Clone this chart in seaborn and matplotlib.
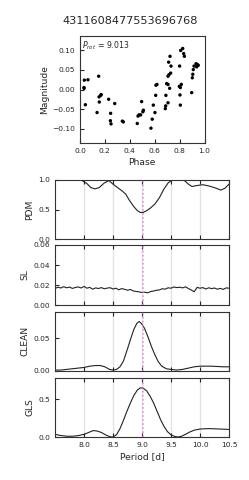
import numpy as np
import pandas as pd
import matplotlib
matplotlib.use("Agg")
import matplotlib.pyplot as plt
import seaborn as sns

# star id and best period
star_id = "4311608477553696768"
p_rot = 9.013

# phase-folded light curve
phase = [0.035, 0.064, 0.032, 0.033, 0.043, 0.150, 0.153, 0.166, 0.170, 0.155,
         0.137, 0.230, 0.279, 0.246, 0.244, 0.249, 0.340, 0.348, 0.460, 0.466,
         0.474, 0.495, 0.509, 0.505, 0.487, 0.570, 0.580, 0.589, 0.602, 0.608,
         0.610, 0.618, 0.685, 0.688, 0.690, 0.696, 0.707, 0.707, 0.720, 0.712,
         0.723, 0.731, 0.728, 0.707, 0.715, 0.800, 0.809, 0.825, 0.833, 0.838,
         0.798, 0.814, 0.806, 0.803, 0.806, 0.897, 0.902, 0.906, 0.910, 0.916,
         0.932, 0.942, 0.937, 0.950]
mag = [0.024, 0.025, 0.005, 0.003, -0.039, 0.034, -0.019, -0.015, -0.013, -0.032,
       -0.059, -0.025, -0.036, -0.061, -0.080, -0.088, -0.081, -0.083, -0.087, -0.068,
       -0.065, -0.031, -0.053, -0.057, -0.065, -0.099, -0.076, -0.040, -0.059, -0.015,
       0.011, 0.013, -0.049, -0.042, -0.015, 0.015, 0.013, -0.034, 0.003, 0.070,
       0.085, 0.060, 0.042, 0.034, 0.038, 0.060, 0.100, 0.105, 0.092, 0.085,
       0.008, 0.013, 0.005, -0.014, -0.040, -0.008, 0.030, 0.039, 0.051, 0.060,
       0.066, 0.064, 0.058, 0.062]

# PDM theta
pdm_period = [7.50, 7.95, 8.05, 8.12, 8.19, 8.26, 8.35, 8.43, 8.50, 8.58, 8.65, 8.72,
              8.78, 8.85, 8.92, 8.97, 9.02, 9.08, 9.14, 9.22, 9.30, 9.38, 9.45, 9.52,
              9.72, 9.80, 9.86, 9.97, 10.05, 10.15, 10.25, 10.36, 10.43, 10.50]
pdm_theta = [1.0, 1.0, 0.94, 0.87, 0.85, 0.87, 0.95, 0.99, 0.93, 0.87, 0.82, 0.76,
             0.66, 0.56, 0.48, 0.45, 0.45, 0.48, 0.52, 0.59, 0.70, 0.85, 0.95, 1.0,
             1.0, 0.93, 0.89, 0.91, 0.92, 0.90, 0.87, 0.83, 0.86, 0.93]

# string length
sl_period = [7.50, 7.55, 7.60, 7.65, 7.70, 7.75, 7.80, 7.85, 7.90, 7.95,
             8.00, 8.05, 8.10, 8.15, 8.20, 8.25, 8.30, 8.35, 8.40, 8.45,
             8.50, 8.55, 8.60, 8.65, 8.70, 8.75, 8.80, 8.85, 8.90, 8.95,
             9.00, 9.05, 9.10, 9.15, 9.20, 9.25, 9.30, 9.35, 9.40, 9.45,
             9.50, 9.55, 9.60, 9.65, 9.70, 9.75, 9.80, 9.85, 9.90, 9.95,
             10.00, 10.05, 10.10, 10.15, 10.20, 10.25, 10.30, 10.35, 10.40, 10.45,
             10.50]
sl_value = [0.0165, 0.0178, 0.0170, 0.0183, 0.0172, 0.0179, 0.0166, 0.0175, 0.0181, 0.0170,
            0.0186, 0.0168, 0.0176, 0.0158, 0.0171, 0.0165, 0.0174, 0.0162, 0.0169, 0.0173,
            0.0160, 0.0168, 0.0152, 0.0164, 0.0157, 0.0148, 0.0155, 0.0140, 0.0136, 0.0131,
            0.0125, 0.0128, 0.0122, 0.0135, 0.0140, 0.0148, 0.0150, 0.0163, 0.0158, 0.0172,
            0.0168, 0.0180, 0.0174, 0.0178, 0.0171, 0.0182, 0.0165, 0.0150, 0.0132, 0.0176,
            0.0168, 0.0174, 0.0160, 0.0172, 0.0164, 0.0170, 0.0158, 0.0166, 0.0156, 0.0171,
            0.0168]

# CLEAN power
clean_period = [7.50, 7.60, 7.70, 7.80, 7.90, 8.00, 8.10, 8.20, 8.28, 8.36, 8.44, 8.50,
                8.56, 8.62, 8.68, 8.74, 8.80, 8.86, 8.91, 8.95, 8.99, 9.04, 9.10, 9.16,
                9.22, 9.28, 9.34, 9.42, 9.50, 9.60, 9.70, 9.80, 9.90, 10.00, 10.20, 10.40,
                10.50]
clean_power = [0.001, 0.001, 0.002, 0.003, 0.004, 0.005, 0.007, 0.008, 0.008, 0.006, 0.002, 0.001,
               0.002, 0.006, 0.015, 0.031, 0.048, 0.064, 0.073, 0.076, 0.073, 0.066, 0.053, 0.038,
               0.025, 0.014, 0.007, 0.003, 0.002, 0.001, 0.002, 0.004, 0.006, 0.007, 0.007, 0.006,
               0.006]

# GLS power
gls_period = [7.50, 7.60, 7.70, 7.80, 7.90, 8.00, 8.08, 8.16, 8.22, 8.30, 8.38, 8.45,
              8.50, 8.56, 8.62, 8.68, 8.74, 8.80, 8.86, 8.92, 8.97, 9.02, 9.08, 9.14,
              9.20, 9.26, 9.32, 9.38, 9.44, 9.50, 9.56, 9.62, 9.68, 9.75, 9.82, 9.90,
              10.00, 10.10, 10.20, 10.35, 10.50]
gls_power = [0.035, 0.020, 0.010, 0.010, 0.018, 0.035, 0.060, 0.085, 0.080, 0.060, 0.025, 0.003,
             0.000, 0.030, 0.110, 0.220, 0.340, 0.450, 0.550, 0.620, 0.650, 0.645, 0.610, 0.540,
             0.450, 0.340, 0.230, 0.140, 0.070, 0.030, 0.008, 0.000, 0.010, 0.035, 0.065, 0.090,
             0.105, 0.110, 0.110, 0.105, 0.100]

period_ticks = [8.0, 8.5, 9.0, 9.5, 10.0, 10.5]

sns.set_style("ticks", {"xtick.direction": "in", "ytick.direction": "in",
                        "axes.edgecolor": "#333333"})
plt.rcParams["font.family"] = ["DejaVu Sans"]
plt.rcParams["axes.linewidth"] = 0.8
plt.rcParams["xtick.major.size"] = 3
plt.rcParams["ytick.major.size"] = 3
plt.rcParams["xtick.major.width"] = 0.8
plt.rcParams["ytick.major.width"] = 0.8

fig = plt.figure(figsize=(2.49, 4.8), dpi=100)
W, H = 249, 480

def box(l, t, r, b):
    return [l / W, 1 - b / H, (r - l) / W, (b - t) / H]

# light curve
ax0 = fig.add_axes(box(80, 36, 204.5, 143))
lc = pd.DataFrame({"phase": phase, "mag": mag})
sns.scatterplot(data=lc, x="phase", y="mag", ax=ax0, color="black", s=6,
                edgecolor="none", linewidth=0)
ax0.set_xlim(0, 1)
ax0.set_ylim(-0.137, 0.137)
ax0.set_xticks([0.0, 0.2, 0.4, 0.6, 0.8, 1.0])
ax0.set_yticks([-0.10, -0.05, 0.0, 0.05, 0.10])
ax0.set_yticklabels(["\u22120.10", "\u22120.05", "0.00", "0.05", "0.10"])
ax0.tick_params(labelsize=5.4, length=3)
ax0.set_xlabel("Phase", fontsize=6.6, labelpad=3)
ax0.set_ylabel("Magnitude", fontsize=6.6, labelpad=2)
ax0.text(0.02, 0.97, r"$P_{rot}$ = 9.013", transform=ax0.transAxes,
         fontsize=5.6, va="top", ha="left")
fig.text(130.5 / W, 1 - 21 / H, star_id, fontsize=8.1, ha="center", va="center")

panels = [
    ("PDM", pdm_period, pdm_theta, box(55, 180, 229, 239), (0, 1.0), [0.0, 0.5, 1.0], "{:.1f}"),
    ("SL", sl_period, sl_value, box(55, 245, 229, 305), (0, 0.06), [0.0, 0.02, 0.04, 0.06], "{:.2f}"),
    ("CLEAN", clean_period, clean_power, box(55, 311.7, 229, 370.7),
     (0, max(clean_power) * 1.2), [0.0, 0.05], "{:.2f}"),
    ("GLS", gls_period, gls_power, box(55, 378, 229, 437),
     (0, max(gls_power) * 1.2), [0.0, 0.5], "{:.1f}"),
]

axes = []
for i, (name, per, val, pos, ylim, yt, fmt) in enumerate(panels):
    ax = fig.add_axes(pos)
    for p in period_ticks[:-1]:
        ax.axvline(p, color="#e3e3e3", lw=1.0, zorder=0)
    df = pd.DataFrame({"period": per, "value": val})
    sns.lineplot(data=df, x="period", y="value", ax=ax, color="#222222", lw=0.8)
    ax.axvline(p_rot, color="violet", ls=":", lw=1.1, zorder=3)
    ax.set_xlim(7.5, 10.5)
    ax.set_ylim(*ylim)
    ax.set_xticks(period_ticks)
    ax.set_yticks(yt)
    ax.set_yticklabels([fmt.format(v) for v in yt])
    ax.tick_params(axis="x", top=True, bottom=True, length=3)
    ax.tick_params(labelsize=5.4)
    ax.set_ylabel(name, fontsize=6.6, labelpad=3)
    if i < 3:
        ax.set_xticklabels([])
        ax.set_xlabel("")
    else:
        ax.set_xticklabels(["8.0", "8.5", "9.0", "9.5", "10.0", "10.5"])
        ax.set_xlabel("Period [d]", fontsize=6.6, labelpad=3)
    axes.append(ax)

fig.align_ylabels(axes)
fig.savefig("out.png", dpi=100)
